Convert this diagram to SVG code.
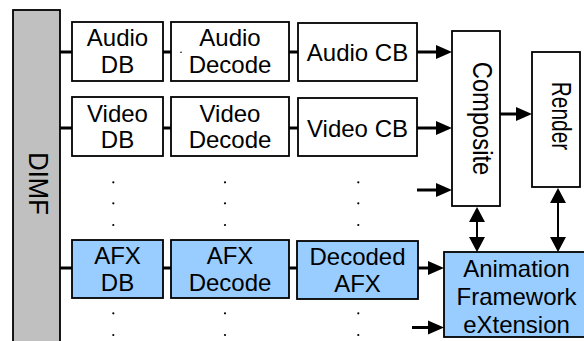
<svg xmlns="http://www.w3.org/2000/svg" width="584" height="341" viewBox="0 0 584 341">
<style>
.box{fill:#ffffff;stroke:#000;stroke-width:1.8}
.blue{fill:#99ccff;stroke:#000;stroke-width:1.8}
.bar{fill:#c0c0c0;stroke:#000;stroke-width:1.8}
text{font-family:"Liberation Sans",Arial,sans-serif;font-size:24px;fill:#000;text-anchor:middle}
.thick{stroke:#000;stroke-width:3;fill:none}
.arr{stroke:#000;stroke-width:3;fill:none;marker-end:url(#ah)}
.dbl{stroke:#000;stroke-width:2;fill:none;marker-start:url(#ah2);marker-end:url(#ah2)}
.dot{fill:#000}
</style>
<defs>
<marker id="ah" markerUnits="userSpaceOnUse" markerWidth="16" markerHeight="14" refX="6" refY="7" orient="auto" overflow="visible">
<path d="M0,0 L16,7 L0,14 Z" fill="#000"/>
</marker>
<marker id="ah2" markerUnits="userSpaceOnUse" markerWidth="15" markerHeight="16" refX="5" refY="8" orient="auto-start-reverse" overflow="visible">
<path d="M0,0 L15,8 L0,16 Z" fill="#000"/>
</marker>
</defs>

<g id="dimf">
<rect class="bar" x="13" y="10" width="47" height="340"/>
<text transform="translate(29,183.5) rotate(90) scale(1.07,1.16)">DIMF</text>
</g>

<g id="connectors">
<line class="thick" x1="60" y1="52" x2="72" y2="52"/>
<line class="thick" x1="163" y1="52" x2="171" y2="52"/>
<line class="thick" x1="289" y1="52" x2="298" y2="52"/>
<line class="thick" x1="60" y1="128" x2="72" y2="128"/>
<line class="thick" x1="163" y1="128" x2="171" y2="128"/>
<line class="thick" x1="289" y1="128" x2="298" y2="128"/>
<line class="thick" x1="60" y1="268" x2="72" y2="268"/>
<line class="thick" x1="163" y1="268" x2="171" y2="268"/>
<line class="thick" x1="289" y1="268" x2="297" y2="268"/>
<line class="arr" x1="417" y1="52" x2="442" y2="52"/>
<line class="arr" x1="417" y1="128" x2="442" y2="128"/>
<line class="arr" x1="417" y1="190" x2="442" y2="190"/>
<line class="arr" x1="500" y1="114" x2="522" y2="114"/>
<line class="arr" x1="418" y1="268" x2="434" y2="268"/>
<line class="arr" x1="412" y1="327.5" x2="434" y2="327.5"/>
<line class="dbl" x1="477" y1="217" x2="477" y2="242"/>
<line class="dbl" x1="558" y1="198" x2="558" y2="242"/>
</g>

<g id="audio-db"><rect class="box" x="72" y="22" width="91" height="59"/><text x="117.5" y="46">Audio</text><text x="117.5" y="73">DB</text></g>
<g id="audio-decode"><rect class="box" x="171" y="22" width="118" height="59"/><text x="230" y="46">Audio</text><text x="230" y="73">Decode</text><circle class="dot" cx="181" cy="52.3" r="0.8"/></g>
<g id="audio-cb"><rect class="box" x="298" y="23" width="119" height="58"/><text x="357.5" y="61">Audio CB</text></g>

<g id="video-db"><rect class="box" x="72" y="97" width="91" height="59"/><text x="117.5" y="121.5">Video</text><text x="117.5" y="148">DB</text></g>
<g id="video-decode"><rect class="box" x="171" y="97" width="118" height="59"/><text x="230" y="121.5">Video</text><text x="230" y="148">Decode</text></g>
<g id="video-cb"><rect class="box" x="298" y="98" width="119" height="58"/><text x="357.5" y="136.5">Video CB</text></g>

<g id="afx-db"><rect class="blue" x="72" y="240" width="91" height="58"/><text x="117.5" y="264">AFX</text><text x="117.5" y="291">DB</text></g>
<g id="afx-decode"><rect class="blue" x="171" y="240" width="118" height="58"/><text x="230" y="264">AFX</text><text x="230" y="291">Decode</text></g>
<g id="decoded-afx"><rect class="blue" x="297" y="241" width="121" height="58"/><text x="357.5" y="264.5">Decoded</text><text x="357.5" y="292">AFX</text></g>

<g id="composite"><rect class="box" x="452" y="31" width="48" height="175"/><text transform="translate(472.5,118.5) rotate(90) scale(0.99,1.16)">Composite</text></g>
<g id="render"><rect class="box" x="532" y="52" width="48" height="135"/><text transform="translate(552,116) rotate(90) scale(0.87,1.16)">Render</text></g>
<g id="afx"><rect class="blue" x="444" y="252" width="145" height="85"/><text x="516.5" y="276.5">Animation</text><text x="516.5" y="305">Framework</text><text x="516.5" y="333">eXtension</text></g>

<g id="ellipsis">
<circle class="dot" cx="113.3" cy="182.3" r="1.1"/><circle class="dot" cx="113.3" cy="203.3" r="1.1"/><circle class="dot" cx="113.3" cy="225" r="1.1"/><circle class="dot" cx="113.3" cy="313.3" r="1.1"/><circle class="dot" cx="113.3" cy="335" r="1.1"/>
<circle class="dot" cx="225" cy="182.3" r="1.1"/><circle class="dot" cx="225" cy="203.3" r="1.1"/><circle class="dot" cx="225" cy="225" r="1.1"/><circle class="dot" cx="225" cy="313.3" r="1.1"/><circle class="dot" cx="225" cy="335" r="1.1"/>
<circle class="dot" cx="358.3" cy="182.3" r="1.1"/><circle class="dot" cx="358.3" cy="203.3" r="1.1"/><circle class="dot" cx="358.3" cy="225" r="1.1"/><circle class="dot" cx="358.3" cy="313.3" r="1.1"/><circle class="dot" cx="358.3" cy="335" r="1.1"/>
</g>
</svg>
